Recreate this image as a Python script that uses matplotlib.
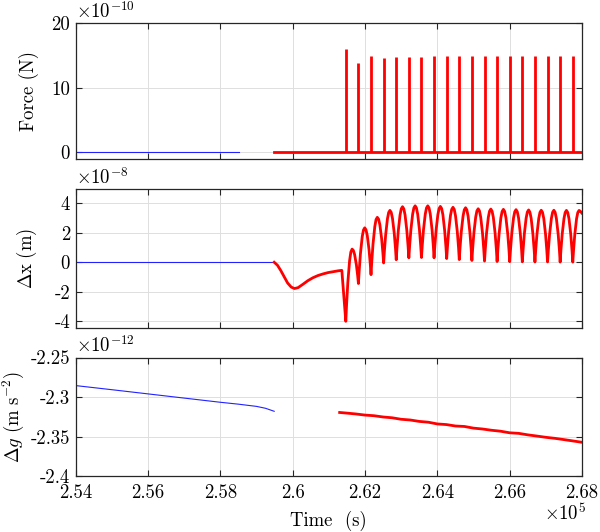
import matplotlib

matplotlib.use('agg')
import matplotlib.pyplot as plt

plt.rcParams['font.family'] = ['cmr10', 'DejaVu Serif']
plt.rcParams['mathtext.fontset'] = 'cm'
plt.rcParams['axes.unicode_minus'] = False
plt.rcParams['font.size'] = 13.5

# time axis in units of 1e5 s
xticks = [2.54, 2.56, 2.58, 2.60, 2.62, 2.64, 2.66, 2.68]
xtick_labels = ['2.54', '2.56', '2.58', '2.6', '2.62', '2.64', '2.66', '2.68']

# --- force (x1e-10 N)
force_blue_t = [2.54, 2.5852]
force_blue_v = [0, 0]
force_red_t = [2.5949, 2.68]
force_red_v = [0, 0]
spike_t = [2.61470, 2.61819, 2.62167, 2.62516, 2.62864, 2.63213, 2.63562, 2.63910,
           2.64259, 2.64607, 2.64956, 2.65305, 2.65653, 2.66002, 2.66350, 2.66699,
           2.67048, 2.67396, 2.67745]
spike_h = [16.1, 13.9, 14.95, 14.6, 14.85, 14.85, 14.85, 14.95, 14.95,
           15.0, 15.0, 15.0, 15.0, 15.0, 15.0, 15.0, 15.0, 15.0, 15.0]

# --- displacement (x1e-8 m)
dx_blue_t = [2.54, 2.5949]
dx_blue_v = [0, 0]
dx_red_t = [
    2.5949, 2.5958, 2.5967, 2.5977, 2.5986, 2.5996, 2.6005, 2.6015, 2.6028,
    2.6042, 2.6056, 2.6070, 2.6084, 2.6098, 2.6112, 2.6126, 2.6136,
    2.61470, 2.61491, 2.61526, 2.61575, 2.61609, 2.61644, 2.61679, 2.61714, 2.61763, 2.61798,
    2.61819, 2.61840, 2.61875, 2.61924, 2.61958, 2.61993, 2.62028, 2.62063, 2.62112, 2.62147,
    2.62167, 2.62188, 2.62223, 2.62272, 2.62306, 2.62341, 2.62376, 2.62411, 2.62460, 2.62495,
    2.62516, 2.62537, 2.62572, 2.62621, 2.62655, 2.62690, 2.62725, 2.62760, 2.62809, 2.62844,
    2.62864, 2.62885, 2.62920, 2.62969, 2.63003, 2.63038, 2.63073, 2.63108, 2.63157, 2.63192,
    2.63213, 2.63234, 2.63269, 2.63318, 2.63352, 2.63387, 2.63422, 2.63457, 2.63506, 2.63541,
    2.63562, 2.63583, 2.63618, 2.63667, 2.63701, 2.63736, 2.63771, 2.63806, 2.63855, 2.63890,
    2.63910, 2.63931, 2.63966, 2.64015, 2.64049, 2.64084, 2.64119, 2.64154, 2.64203, 2.64238,
    2.64259, 2.64280, 2.64315, 2.64364, 2.64398, 2.64433, 2.64468, 2.64503, 2.64552, 2.64587,
    2.64607, 2.64628, 2.64663, 2.64712, 2.64746, 2.64781, 2.64816, 2.64851, 2.64900, 2.64935,
    2.64956, 2.64977, 2.65012, 2.65061, 2.65095, 2.65130, 2.65165, 2.65200, 2.65249, 2.65284,
    2.65305, 2.65326, 2.65361, 2.65410, 2.65444, 2.65479, 2.65514, 2.65549, 2.65598, 2.65633,
    2.65653, 2.65674, 2.65709, 2.65758, 2.65792, 2.65827, 2.65862, 2.65897, 2.65946, 2.65981,
    2.66002, 2.66023, 2.66058, 2.66107, 2.66141, 2.66176, 2.66211, 2.66246, 2.66295, 2.66330,
    2.66350, 2.66371, 2.66406, 2.66455, 2.66489, 2.66524, 2.66559, 2.66594, 2.66643, 2.66678,
    2.66699, 2.66720, 2.66755, 2.66804, 2.66838, 2.66873, 2.66908, 2.66943, 2.66992, 2.67027,
    2.67048, 2.67069, 2.67104, 2.67153, 2.67187, 2.67222, 2.67257, 2.67292, 2.67341, 2.67376,
    2.67396, 2.67417, 2.67452, 2.67501, 2.67535, 2.67570, 2.67605, 2.67640, 2.67689, 2.67724,
    2.67745, 2.67766, 2.67801, 2.67850, 2.67884, 2.67919, 2.67954, 2.68000]
dx_red_v = [
    0, -0.2, -0.55, -1.0, -1.4, -1.68, -1.78, -1.72, -1.5,
    -1.25, -1.05, -0.9, -0.79, -0.7, -0.64, -0.58, -0.55,
    -4.00, -2.90, -1.37, 0.11, 0.69, 0.89, 0.80, 0.52, -0.19, -0.91,
    -1.44, -0.59, 0.59, 1.73, 2.18, 2.33, 2.20, 1.82, 0.86, -0.13,
    -0.84, 0.04, 1.25, 2.42, 2.89, 3.04, 2.92, 2.55, 1.61, 0.65,
    -0.05, 0.75, 1.86, 2.94, 3.37, 3.51, 3.38, 2.98, 1.97, 0.92,
    0.17, 0.98, 2.10, 3.19, 3.62, 3.76, 3.62, 3.21, 2.16, 1.08,
    0.30, 1.09, 2.19, 3.26, 3.68, 3.82, 3.68, 3.26, 2.20, 1.11,
    0.32, 1.11, 2.20, 3.26, 3.68, 3.82, 3.68, 3.26, 2.19, 1.09,
    0.30, 1.09, 2.17, 3.22, 3.64, 3.78, 3.64, 3.22, 2.15, 1.05,
    0.25, 1.03, 2.12, 3.17, 3.58, 3.72, 3.58, 3.15, 2.08, 0.98,
    0.18, 0.97, 2.07, 3.13, 3.55, 3.69, 3.55, 3.12, 2.04, 0.93,
    0.12, 0.91, 2.00, 3.06, 3.48, 3.62, 3.48, 3.05, 1.98, 0.88,
    0.08, 0.87, 1.97, 3.04, 3.46, 3.60, 3.46, 3.03, 1.96, 0.85,
    0.05, 0.85, 1.95, 3.02, 3.44, 3.58, 3.44, 3.01, 1.94, 0.84,
    0.04, 0.83, 1.93, 3.00, 3.42, 3.56, 3.42, 3.00, 1.93, 0.83,
    0.03, 0.82, 1.92, 2.98, 3.40, 3.54, 3.40, 2.98, 1.91, 0.81,
    0.02, 0.81, 1.90, 2.96, 3.38, 3.52, 3.38, 2.96, 1.90, 0.81,
    0.02, 0.81, 1.90, 2.96, 3.38, 3.52, 3.38, 2.96, 1.90, 0.80,
    0.01, 0.80, 1.89, 2.95, 3.37, 3.51, 3.37, 2.95, 1.89, 0.80,
    0.01, 0.80, 1.89, 2.95, 3.37, 3.51, 3.45, 3.32]

# --- gravity perturbation (x1e-12 m s^-2)
dg_blue_t = [2.54, 2.55, 2.56, 2.57, 2.58, 2.585, 2.59, 2.5925, 2.5949]
dg_blue_v = [-2.2855, -2.2907, -2.2960, -2.3013, -2.3066, -2.3090, -2.3118, -2.3142, -2.3180]
dg_red_t = [2.6130, 2.6150, 2.6175, 2.62, 2.6225, 2.625, 2.6275, 2.63, 2.6325, 2.635,
            2.6375, 2.64, 2.6425, 2.645, 2.6475, 2.65, 2.6525, 2.655, 2.6575, 2.66,
            2.6625, 2.665, 2.6675, 2.67, 2.6725, 2.675, 2.6775, 2.68]
dg_red_v = [-2.3195, -2.3203, -2.3214, -2.3228, -2.3236, -2.3252, -2.3262, -2.3281,
            -2.3290, -2.3308, -2.3318, -2.3340, -2.3348, -2.3366, -2.3372, -2.3393,
            -2.3404, -2.3420, -2.3432, -2.3452, -2.3459, -2.3478, -2.3493, -2.3509,
            -2.3522, -2.3538, -2.3555, -2.3572]

dark = '#262626'
fig = plt.figure(figsize=(6, 5.32), dpi=100)
ax1 = fig.add_axes([0.126, 0.702, 0.844, 0.254])
ax2 = fig.add_axes([0.126, 0.3835, 0.844, 0.261])
ax3 = fig.add_axes([0.126, 0.105, 0.844, 0.223])

ax1.plot(force_blue_t, force_blue_v, color='#2222ff', lw=0.8)
ax1.plot(force_red_t, force_red_v, color='red', lw=2)
ax1.vlines(spike_t, 0, spike_h, color='red', lw=2)
ax1.set_ylim(-1, 20)
ax1.set_yticks([0, 10, 20])
ax1.set_yticklabels(['0', '10', '20'])
ax1.set_ylabel('Force (N)')
ax1.yaxis.set_label_coords(-0.072, 0.5)

ax2.plot(dx_blue_t, dx_blue_v, color='#2222ff', lw=0.8)
ax2.plot(dx_red_t, dx_red_v, color='red', lw=2)
ax2.set_ylim(-4.45, 4.95)
ax2.set_yticks([-4, -2, 0, 2, 4])
ax2.set_yticklabels(['-4', '-2', '0', '2', '4'])
ax2.set_ylabel(r'$\Delta\mathrm{x}\ \mathrm{(m)}$')
ax2.yaxis.set_label_coords(-0.072, 0.5)

ax3.plot(dg_blue_t, dg_blue_v, color='#2222ff', lw=0.8)
ax3.plot(dg_red_t, dg_red_v, color='red', lw=2)
ax3.set_ylim(-2.4, -2.25)
ax3.set_yticks([-2.4, -2.35, -2.3, -2.25])
ax3.set_yticklabels(['-2.4', '-2.35', '-2.3', '-2.25'])
ax3.set_ylabel(r'$\Delta g\ (\mathrm{m\ s^{-2}})$')
ax3.yaxis.set_label_coords(-0.098, 0.5)
ax3.set_xlabel('Time  (s)', labelpad=6)

for ax, mult in [(ax1, r'$\times10^{-10}$'), (ax2, r'$\times10^{-8}$'),
                 (ax3, r'$\times10^{-12}$')]:
    ax.set_xlim(2.54, 2.68)
    ax.set_xticks(xticks)
    if ax is ax3:
        ax.set_xticklabels(xtick_labels)
    else:
        ax.set_xticklabels([])
    ax.set_axisbelow(True)
    ax.grid(True, color='#dedede', lw=0.7)
    ax.tick_params(direction='in', length=4, width=0.8, top=True, right=True,
                   colors=dark, labelcolor='black', pad=4)
    ax.tick_params(axis='x', pad=6)
    for s in ax.spines.values():
        s.set_color(dark)
        s.set_linewidth(0.9)
    ax.text(0, 1.01, mult, transform=ax.transAxes, ha='left', va='bottom')

fig.text(0.977, 0.034, r'$\times10^{5}$', ha='right', va='center')

plt.savefig('out.png', dpi=100)
